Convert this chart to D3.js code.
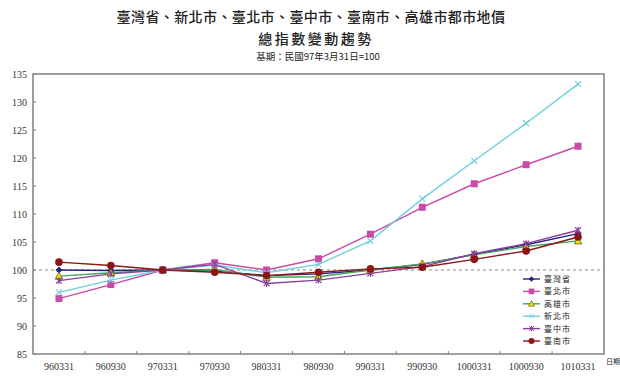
<!DOCTYPE html>
<html>
<head>
<meta charset="utf-8">
<script src="https://cdn.jsdelivr.net/npm/d3@7"></script>
<style>
  body { margin: 0; background: #fff; }
  svg { display: block; }
  .tick-label { font-size: 10px; fill: #333; }
  .cjk { font-family: "Noto Sans CJK TC", sans-serif; fill: #222; }
</style>
</head>
<body>
<svg width="620" height="378"></svg>
<script>
const dates = ["960331", "960930", "970331", "970930", "980331", "980930",
               "990331", "990930", "1000331", "1000930", "1010331"];
const yTicks = [85, 90, 95, 100, 105, 110, 115, 120, 125, 130, 135];

const taiwan    = [100.0, 99.9, 100, 99.8, 99.0, 99.3, 100.0, 101.0, 102.8, 104.5, 106.5];
const taipei    = [94.9, 97.4, 100, 101.3, 100.0, 102.0, 106.4, 111.2, 115.4, 118.8, 122.1];
const kaohsiung = [98.9, 99.5, 100, 100.1, 98.7, 98.8, 100.0, 101.1, 102.7, 104.2, 105.2];
const newTaipei = [96.0, 98.2, 100, 100.9, 99.5, 101.0, 105.2, 112.7, 119.5, 126.2, 133.2];
const taichung  = [98.1, 99.3, 100, 101.0, 97.6, 98.2, 99.4, 100.6, 102.9, 104.7, 107.1];
const tainan    = [101.4, 100.8, 100, 99.6, 99.0, 99.6, 100.2, 100.5, 101.9, 103.4, 105.9];

const series = [
  { name: "臺灣省", values: taiwan,    color: "#24247e", marker: "diamond" },
  { name: "臺北市", values: taipei,    color: "#c94aa8", marker: "square" },
  { name: "高雄市", values: kaohsiung, color: "#45a45c", marker: "triangle" },
  { name: "新北市", values: newTaipei, color: "#6fd0dc", marker: "cross" },
  { name: "臺中市", values: taichung,  color: "#8a3f9e", marker: "asterisk" },
  { name: "臺南市", values: tainan,    color: "#8c1616", marker: "circle" }
];

const svg = d3.select("svg"),
      margin = { top: 74, right: 16, bottom: 24, left: 33 },
      width = +svg.attr("width") - margin.left - margin.right,
      height = +svg.attr("height") - margin.top - margin.bottom;

const g = svg.append("g").attr("transform", `translate(${margin.left},${margin.top})`);

const x = d3.scaleBand().domain(dates).range([0, width]).padding(0);
const y = d3.scaleLinear().domain([85, 135]).range([height, 0]);
const cx = d => x(d) + x.bandwidth() / 2;
const serif = "'Liberation Serif', 'Times New Roman', serif";

// titles
svg.append("text").attr("class", "cjk")
  .attr("x", 311).attr("y", 22).attr("text-anchor", "middle")
  .style("font-size", "14px").style("letter-spacing", "0.4px").style("font-weight", "500")
  .text("臺灣省、新北市、臺北市、臺中市、臺南市、高雄市都市地價");
svg.append("text").attr("class", "cjk")
  .attr("x", 316).attr("y", 44).attr("text-anchor", "middle")
  .style("font-size", "14px").style("letter-spacing", "2.5px").style("font-weight", "500")
  .text("總指數變動趨勢");
svg.append("text").attr("class", "cjk")
  .attr("x", 318).attr("y", 60).attr("text-anchor", "middle")
  .style("font-size", "9.5px")
  .text("基期：民國97年3月31日=100");

// reference line at 100
g.append("line")
  .attr("x1", 0).attr("x2", width)
  .attr("y1", y(100)).attr("y2", y(100))
  .attr("stroke", "#888").attr("stroke-width", 1.2)
  .attr("stroke-dasharray", "3,3");

// frame
g.append("rect")
  .attr("width", width).attr("height", height)
  .attr("fill", "none").attr("stroke", "#808080").attr("stroke-width", 1.5);

// y axis ticks and labels
g.selectAll(".ytick").data(yTicks).enter().append("line")
  .attr("x1", 0).attr("x2", 3)
  .attr("y1", d => y(d)).attr("y2", d => y(d))
  .attr("stroke", "#808080");
g.selectAll(".ylab").data(yTicks).enter().append("text")
  .attr("class", "tick-label")
  .attr("font-family", serif)
  .attr("x", -6).attr("y", d => y(d) + 3.5)
  .attr("text-anchor", "end")
  .text(d => d);

// x axis ticks (at band boundaries) and labels
g.selectAll(".xtick").data(dates.slice(1)).enter().append("line")
  .attr("x1", d => x(d)).attr("x2", d => x(d))
  .attr("y1", height).attr("y2", height - 3)
  .attr("stroke", "#808080");
g.selectAll(".xlab").data(dates).enter().append("text")
  .attr("class", "tick-label")
  .attr("font-family", serif)
  .attr("x", d => cx(d)).attr("y", height + 16)
  .attr("text-anchor", "middle")
  .text(d => d);
svg.append("text").attr("class", "cjk")
  .attr("x", 606).attr("y", 364)
  .style("font-size", "7px")
  .text("日期");

// markers
function drawMarker(sel, type, color) {
  if (type === "diamond") {
    sel.append("path").attr("d", "M0,-3.5L3.5,0L0,3.5L-3.5,0Z").attr("fill", color);
  } else if (type === "square") {
    sel.append("rect").attr("x", -3.5).attr("y", -3.5).attr("width", 7).attr("height", 7).attr("fill", color);
  } else if (type === "triangle") {
    sel.append("path").attr("d", "M0,-4L3.8,3L-3.8,3Z").attr("fill", "#f2e600").attr("stroke", "#5a5a20").attr("stroke-width", 0.8);
  } else if (type === "cross") {
    sel.append("path").attr("d", "M-3,-3L3,3M-3,3L3,-3").attr("stroke", color).attr("stroke-width", 1.2);
  } else if (type === "asterisk") {
    sel.append("path").attr("d", "M-3,-3L3,3M-3,3L3,-3M0,-3.5L0,3.5").attr("stroke", color).attr("stroke-width", 1.2);
  } else {
    sel.append("circle").attr("r", 3.8).attr("fill", color);
  }
}

const line = d3.line().x((d, i) => cx(dates[i])).y(d => y(d));

series.forEach(s => {
  g.append("path")
    .datum(s.values)
    .attr("fill", "none")
    .attr("stroke", s.color)
    .attr("stroke-width", 1.4)
    .attr("d", line);
});
series.forEach(s => {
  s.values.forEach((v, i) => {
    const m = g.append("g").attr("transform", `translate(${cx(dates[i])},${y(v)})`);
    drawMarker(m, s.marker, s.color);
  });
});

// legend
const legend = svg.append("g").attr("transform", "translate(523,279)");
series.forEach((s, i) => {
  const item = legend.append("g").attr("transform", `translate(0,${i * 12.4})`);
  item.append("line").attr("x1", 0).attr("x2", 17).attr("stroke", s.color).attr("stroke-width", 1.4);
  const m = item.append("g").attr("transform", "translate(8.5,0) scale(0.8)");
  drawMarker(m, s.marker, s.color);
  item.append("text").attr("class", "cjk")
    .attr("x", 21).attr("y", 3)
    .style("font-size", "8px")
    .style("letter-spacing", "1px")
    .text(s.name);
});
</script>
</body>
</html>
